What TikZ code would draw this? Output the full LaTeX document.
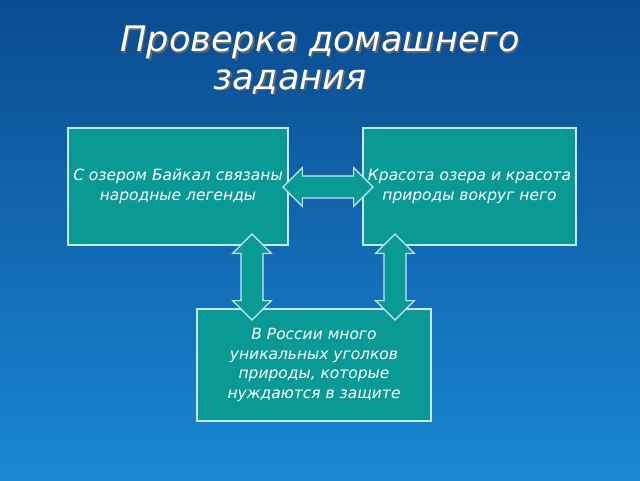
\documentclass[tikz,border=0pt]{standalone}
\usepackage{fontspec}
\setmainfont{DejaVu Sans}
\usetikzlibrary{shapes.arrows,shadows}
\definecolor{teal1}{HTML}{099A96}
\definecolor{frameline}{HTML}{C8E6EE}
\begin{document}
\begin{tikzpicture}[box/.style={fill=teal1, draw=frameline, line width=0.8pt, inner sep=1pt, align=center, text=white, font=\itshape\fontsize{11}{14}\selectfont},
	dblarrow/.style={double arrow, fill=teal1, draw=frameline, line width=0.8pt, minimum width=0.95cm, double arrow head extend=0.21cm, inner xsep=0pt, inner ysep=0.26cm}]
%			\draw[help lines] (0,0) grid (16,12);
			\shade[top color={rgb,255:red,10;green,75;blue,145}, bottom color={rgb,255:red,25;green,135;blue,210}] (0,0) rectangle (16,12);
			\node[text=black!60, font=\itshape\fontsize{25}{27}\selectfont, align=center] at (8.04,10.46) {Проверка домашнего\\\hspace*{-1.5cm}задания};
			\node[text=white, font=\itshape\fontsize{25}{27}\selectfont, align=center] (title) at (8,10.5) {Проверка домашнего\\\hspace*{-1.5cm}задания};
			\node[box, minimum width=5.5cm, minimum height=2.925cm] (lake) at (4.45,7.3375) {С озером Байкал связаны\\народные легенды};
			\node[box, minimum width=5.325cm, minimum height=2.925cm] (beauty) at (11.7375,7.3375) {Красота озера и красота\\природы вокруг него};
			\node[box, minimum width=5.85cm, minimum height=2.8cm] (russia) at (7.85,2.875) {В России много\\уникальных уголков\\природы, которые\\нуждаются в защите};
			\node[dblarrow, minimum height=2.25cm] (a1) at (8.2,7.325) {};
			\node[dblarrow, minimum height=2.15cm, rotate=90] (a2) at (6.3,5.075) {};
			\node[dblarrow, minimum height=2.15cm, rotate=90] (a3) at (9.875,5.075) {};
		\end{tikzpicture}
\end{document}
